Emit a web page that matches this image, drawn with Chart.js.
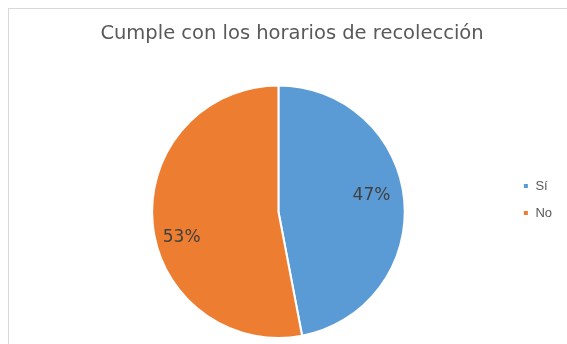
<!DOCTYPE html>
<html>
<head>
<meta charset="utf-8">
<script src="https://cdn.jsdelivr.net/npm/chart.js@4/dist/chart.umd.min.js"></script>
<style>
  html, body { margin: 0; padding: 0; background: #ffffff; overflow: hidden; }
  body { width: 567px; height: 344px; position: relative; }
  #frame { position: absolute; left: 8px; top: 8px; width: 620px; height: 400px; border: 1px solid #d9d9d9; box-sizing: border-box; }
  #wrap { position: absolute; left: 8px; top: 0; width: 567px; height: 344px; }
</style>
</head>
<body>
<div id="frame"></div>
<div id="wrap"><canvas id="chart" width="567" height="344"></canvas></div>
<script>
const chartTitle = 'Cumple con los horarios de recolección';
const categories = ['Sí', 'No'];
const shares = [47, 53];
const sliceColors = ['#5B9BD5', '#ED7D31'];

const WIDE_FONT = '"DejaVu Sans", Verdana, sans-serif';
const FONT = '"Liberation Sans", Arial, sans-serif';

// Percentage labels placed inside each slice
const sliceLabels = {
  id: 'sliceLabels',
  afterDatasetsDraw(chart) {
    const ctx = chart.ctx;
    const meta = chart.getDatasetMeta(0);
    const data = chart.data.datasets[0].data;
    const total = data.reduce((a, b) => a + b, 0);
    ctx.save();
    ctx.font = '17px ' + WIDE_FONT;
    ctx.fillStyle = '#404040';
    ctx.textAlign = 'center';
    ctx.textBaseline = 'middle';
    meta.data.forEach((arc, i) => {
      const p = arc.getProps(['x', 'y', 'startAngle', 'endAngle', 'outerRadius'], true);
      const a = p.startAngle + 0.46 * (p.endAngle - p.startAngle);
      const r = 0.77 * p.outerRadius;
      const pct = Math.round(data[i] / total * 100) + '%';
      ctx.fillText(pct, p.x + Math.cos(a) * r - 2, p.y + Math.sin(a) * r + 4);
    });
    ctx.restore();
  }
};

// Title centred on the whole frame, legend column just above the plot's centre
const boxShift = {
  id: 'boxShift',
  afterLayout(chart) {
    if (chart.titleBlock) {
      chart.titleBlock.left -= 13;
      chart.titleBlock.right -= 13;
    }
    if (chart.legend) {
      chart.legend.top += 30;
      chart.legend.bottom += 30;
    }
  }
};

new Chart(document.getElementById('chart'), {
  type: 'pie',
  data: {
    labels: categories,
    datasets: [{
      data: shares,
      backgroundColor: sliceColors,
      borderColor: '#ffffff',
      borderWidth: 2
    }]
  },
  options: {
    responsive: false,
    animation: false,
    layout: { padding: { left: 40, right: 13, top: 0, bottom: 5 } },
    plugins: {
      title: {
        display: true,
        text: chartTitle,
        color: '#595959',
        font: { family: WIDE_FONT, size: 19.5, weight: 'normal' },
        padding: { top: 22, bottom: 39 }
      },
      legend: {
        position: 'right',
        labels: {
          color: '#595959',
          font: { family: FONT, size: 13 },
          boxWidth: 6,
          boxHeight: 6,
          padding: 14
        }
      },
      tooltip: { enabled: false }
    }
  },
  plugins: [sliceLabels, boxShift]
});
</script>
</body>
</html>
